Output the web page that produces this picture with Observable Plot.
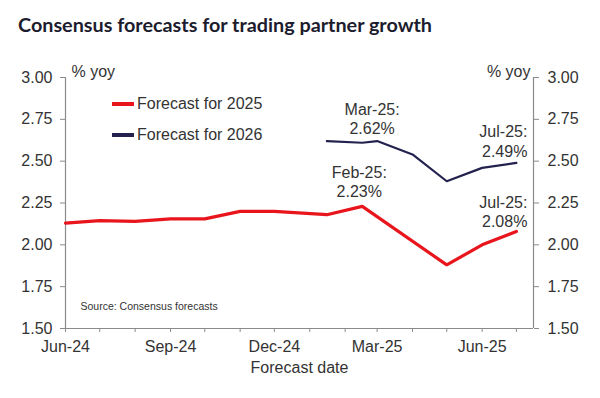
<!DOCTYPE html>
<html>
<head>
<meta charset="utf-8">
<script src="https://cdn.jsdelivr.net/npm/d3@7"></script>
<script src="https://cdn.jsdelivr.net/npm/@observablehq/plot@0.6"></script>
<style>
  html, body { margin: 0; padding: 0; background: #fff; }
  #wrap { position: relative; width: 600px; height: 398px; overflow: hidden; background: #fff; }
  #title { position: absolute; left: 18px; top: 15px; font-family: Lato, "Open Sans", sans-serif; font-weight: 700; font-size: 19.8px; color: #1c1c2e; white-space: nowrap; line-height: 1; }
  #chart { position: absolute; left: 0; top: 50px; }
  .leg { position: absolute; left: 112px; font-family: "Liberation Sans", Arial, sans-serif; font-size: 16px; color: #333; white-space: nowrap; display: flex; align-items: center; }
  .sw { display: inline-block; width: 22px; height: 4px; margin-right: 3px; }
</style>
</head>
<body>
<div id="wrap">
  <div id="title"></div>
  <div id="chart"></div>
  <div id="legend"></div>
</div>
<script>
// ---- data ----
const titleText = "Consensus forecasts for trading partner growth";
const series = ["Forecast for 2025", "Forecast for 2026"];
const seriesColors = ["#e8161c", "#23224f"];

const dates2025 = ["2024-06-01","2024-07-01","2024-08-01","2024-09-01","2024-10-01","2024-11-01","2024-12-01","2025-01-16","2025-02-16","2025-05-01","2025-06-01","2025-07-01"];
const values2025 = [2.13, 2.145, 2.14, 2.155, 2.155, 2.20, 2.20, 2.18, 2.23, 1.88, 2.00, 2.08];

const dates2026 = ["2025-01-16","2025-02-16","2025-03-01","2025-04-01","2025-05-01","2025-06-01","2025-07-01"];
const values2026 = [2.62, 2.61, 2.62, 2.54, 2.38, 2.46, 2.49];

const yTicks = [1.5, 1.75, 2.0, 2.25, 2.5, 2.75, 3.0];
const monthTicks = ["2024-06-01","2024-07-01","2024-08-01","2024-09-01","2024-10-01","2024-11-01","2024-12-01","2025-01-01","2025-02-01","2025-03-01","2025-04-01","2025-05-01","2025-06-01","2025-07-01"];
const monthLabels = ["Jun-24","","","Sep-24","","","Dec-24","","","Mar-25","","","Jun-25",""];
const xDomainDates = ["2024-06-01", "2025-07-16"];

const annSeries = [0, 1, 1, 0];
const annDates = ["2025-02-16", "2025-03-01", "2025-07-01", "2025-07-01"];
const annValues = [2.23, 2.62, 2.49, 2.08];
const annTexts = ["Feb-25:\n2.23%", "Mar-25:\n2.62%", "Jul-25:\n2.49%", "Jul-25:\n2.08%"];

const yUnit = "% yoy";
const xTitle = "Forecast date";
const sourceText = "Source: Consensus forecasts";

// ---- build ----
const parse = d3.utcParse("%Y-%m-%d");
const data2025 = dates2025.map((d, i) => ({date: parse(d), value: values2025[i]}));
const data2026 = dates2026.map((d, i) => ({date: parse(d), value: values2026[i]}));
const ticks = monthTicks.map(parse);
const labelMap = new Map(ticks.map((d, i) => [+d, monthLabels[i]]));
const xDomain = xDomainDates.map(parse);
const ann = annDates.map((d, i) => ({date: parse(d), value: annValues[i], text: annTexts[i]}));

document.getElementById("title").textContent = titleText;

const font = "'Liberation Sans', Arial, sans-serif";
const txt = "#333";
const axisStroke = "#8a8a8a";

function annMark(i, opts) {
  return Plot.text([ann[i]], {x: "date", y: "value", text: "text", fontSize: 16, fill: txt, lineAnchor: "middle", lineHeight: 1.2, ...opts});
}

const chart = Plot.plot({
  width: 600,
  height: 348,
  marginTop: 27,
  marginBottom: 70,
  marginLeft: 65,
  marginRight: 67,
  style: {fontFamily: font, fontSize: "16px", color: txt, background: "transparent"},
  x: {type: "utc", domain: xDomain},
  y: {domain: [yTicks[0], yTicks[yTicks.length - 1]]},
  marks: [
    Plot.axisY({anchor: "left", ticks: yTicks, tickFormat: d => d.toFixed(2), tickSize: 5, tickPadding: 8, label: null, stroke: axisStroke, fill: txt, fontSize: 16}),
    Plot.axisY({anchor: "right", ticks: yTicks, tickFormat: d => d.toFixed(2), tickSize: 5, tickPadding: 9, label: null, stroke: axisStroke, fill: txt, fontSize: 16}),
    Plot.axisX({ticks: ticks, tickFormat: d => labelMap.get(+d) ?? "", tickSize: 4, tickPadding: 8, label: null, stroke: axisStroke, fill: txt, fontSize: 16}),
    Plot.ruleX(xDomain, {stroke: axisStroke, strokeWidth: 1.2}),
    Plot.ruleY([yTicks[0]], {stroke: axisStroke, strokeWidth: 1.2}),
    Plot.line(data2025, {x: "date", y: "value", stroke: seriesColors[0], strokeWidth: 3.2, strokeLinejoin: "miter"}),
    Plot.line(data2026, {x: "date", y: "value", stroke: seriesColors[1], strokeWidth: 2.2}),
    annMark(0, {dx: -3, dy: -25}),
    annMark(1, {dx: -5, dy: -23}),
    annMark(2, {dx: 11, dy: -22, textAnchor: "end"}),
    annMark(3, {dx: 11, dy: -20, textAnchor: "end"}),
    Plot.text([yUnit], {frameAnchor: "top-left", dx: 6, dy: -12, textAnchor: "start", fontSize: 16, fill: txt}),
    Plot.text([yUnit], {frameAnchor: "top-right", dx: -3, dy: -12, textAnchor: "end", fontSize: 16, fill: txt}),
    Plot.text([xTitle], {frameAnchor: "bottom", dy: 44, fontSize: 16, fill: txt}),
    Plot.text([sourceText], {frameAnchor: "bottom-left", dx: 15, dy: -19, textAnchor: "start", fontSize: 10.5, fill: txt})
  ]
});
document.getElementById("chart").appendChild(chart);

// legend
const legend = document.getElementById("legend");
const legTops = [104, 135];
series.forEach((s, i) => {
  const row = document.createElement("div");
  row.className = "leg";
  row.style.top = (legTops[i] - 10) + "px";
  row.style.height = "20px";
  const sw = document.createElement("span");
  sw.className = "sw";
  sw.style.background = seriesColors[i];
  const t = document.createElement("span");
  t.textContent = s;
  row.appendChild(sw);
  row.appendChild(t);
  legend.appendChild(row);
});
</script>
</body>
</html>
